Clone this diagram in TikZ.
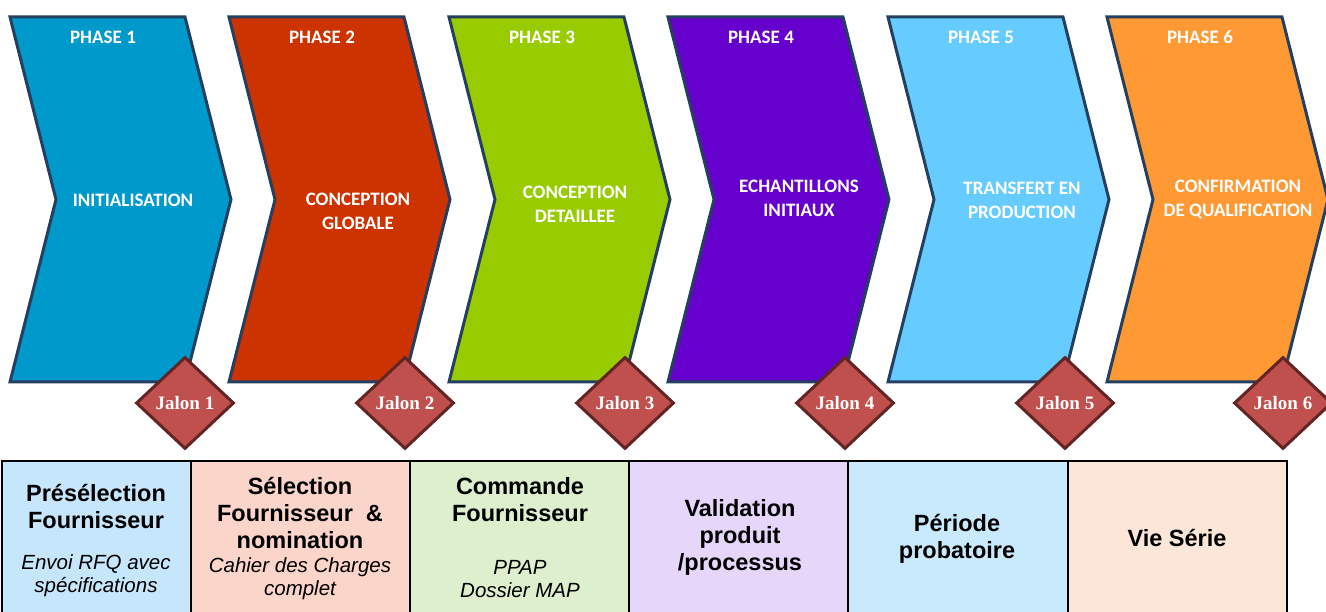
\documentclass[tikz,border=0pt]{standalone}
\usepackage{fontspec}
\usetikzlibrary{shapes.geometric}
\setmainfont{Liberation Sans}
\newfontfamily\phasefont{Carlito}
\newfontfamily\jalonfont{Liberation Serif}

\definecolor{chevline}{HTML}{243F60}
\definecolor{phaseA}{HTML}{0099CC}
\definecolor{phaseB}{HTML}{CC3300}
\definecolor{phaseC}{HTML}{99CC00}
\definecolor{phaseD}{HTML}{6600CC}
\definecolor{phaseE}{HTML}{66CCFF}
\definecolor{phaseF}{HTML}{FF9933}
\definecolor{jalonfill}{HTML}{C0504D}
\definecolor{jalonline}{HTML}{632523}
\definecolor{cellA}{HTML}{C6E6FC}
\definecolor{cellB}{HTML}{FCD5CA}
\definecolor{cellC}{HTML}{DEEFCD}
\definecolor{cellD}{HTML}{E6D6FA}
\definecolor{cellE}{HTML}{C8EAFC}
\definecolor{cellF}{HTML}{FBE6D7}

\tikzset{
phase/.style = {draw = chevline, line width = 3pt},
phasetxt/.style = {text = white, align = center,
  font = \phasefont\bfseries\fontsize{19}{24}\selectfont},
jalon/.style = {diamond, draw = jalonline, fill = jalonfill, line width = 3pt,
  minimum width = 98pt, minimum height = 92pt, inner sep = 0pt, text = white,
  font = \jalonfont\bfseries\fontsize{19}{22}\selectfont},
cell/.style = {draw = black, line width = 2pt},
title/.style = {align = center, font = \bfseries\fontsize{23.5}{27}\selectfont},
note/.style = {align = center, font = \itshape\fontsize{20.5}{23}\selectfont}
}

\begin{document}
\begin{tikzpicture}[x = 1pt, y = -1pt]
\useasboundingbox (0,0) rectangle (1326,612);
%Phase 1
\draw[phase, fill = phaseA] (10,17) -- (185,17) -- (231,199.5) -- (185,382)
-- (10,382) -- (56,199.5) -- cycle;
\node[phasetxt] (ph1) at (103,37) {PHASE 1};
\node[phasetxt] (lab1) at (133,200) {INITIALISATION};
%Phase 2
\draw[phase, fill = phaseB] (229,17) -- (404,17) -- (450,199.5) -- (404,382)
-- (229,382) -- (275,199.5) -- cycle;
\node[phasetxt] (ph2) at (322,37) {PHASE 2};
\node[phasetxt] (lab2) at (358,211.5) {CONCEPTION\\GLOBALE};
%Phase 3
\draw[phase, fill = phaseC] (449,17) -- (624,17) -- (670,199.5) -- (624,382)
-- (449,382) -- (495,199.5) -- cycle;
\node[phasetxt] (ph3) at (542,37) {PHASE 3};
\node[phasetxt] (lab3) at (575,204.5) {CONCEPTION\\DETAILLEE};
%Phase 4
\draw[phase, fill = phaseD] (668,17) -- (843,17) -- (889,199.5) -- (843,382)
-- (668,382) -- (714,199.5) -- cycle;
\node[phasetxt] (ph4) at (761,37) {PHASE 4};
\node[phasetxt] (lab4) at (799,198) {ECHANTILLONS\\INITIAUX};
%Phase 5
\draw[phase, fill = phaseE] (888,17) -- (1063,17) -- (1109,199.5) -- (1063,382)
-- (888,382) -- (934,199.5) -- cycle;
\node[phasetxt] (ph5) at (981,37) {PHASE 5};
\node[phasetxt] (lab5) at (1022,200) {TRANSFERT EN\\PRODUCTION};
%Phase 6
\draw[phase, fill = phaseF] (1107,17) -- (1282,17) -- (1328,199.5) -- (1282,382)
-- (1107,382) -- (1153,199.5) -- cycle;
\node[phasetxt] (ph6) at (1200,37) {PHASE 6};
\node[phasetxt] (lab6) at (1238,199.5) {CONFIRMATION\\DE QUALIFICATION};
%Jalons
\node[jalon] (j1) at (185,403) {Jalon 1};
\node[jalon] (j2) at (405,403) {Jalon 2};
\node[jalon] (j3) at (625,403) {Jalon 3};
\node[jalon] (j4) at (845,403) {Jalon 4};
\node[jalon] (j5) at (1065,403) {Jalon 5};
\node[jalon] (j6) at (1283,403) {Jalon 6};
%Table
\draw[cell, fill = cellA] (2,461) rectangle (191,625);
\draw[cell, fill = cellB] (191,461) rectangle (410,625);
\draw[cell, fill = cellC] (410,461) rectangle (629,625);
\draw[cell, fill = cellD] (629,461) rectangle (848,625);
\draw[cell, fill = cellE] (848,461) rectangle (1068,625);
\draw[cell, fill = cellF] (1068,461) rectangle (1287,625);
\node[title] (t1) at (96,506.5) {Présélection\\Fournisseur};
\node[note] (n1) at (96,576) {Envoi RFQ avec\\spécifications};
\node[title] (t2) at (300,513) {Sélection\\Fournisseur~~\&\\nomination};
\node[note] (n2) at (300,578.5) {Cahier des Charges\\complet};
\node[title] (t3) at (520,500) {Commande\\Fournisseur};
\node[note] (n3) at (520,579.5) {PPAP\\Dossier MAP};
\node[title] (t4) at (740,537.5) {Validation\\produit\\/processus};
\node[title] (t5) at (957,538.5) {Période\\probatoire};
\node[title] (t6) at (1177,538) {Vie Série};
\end{tikzpicture}
\end{document}
